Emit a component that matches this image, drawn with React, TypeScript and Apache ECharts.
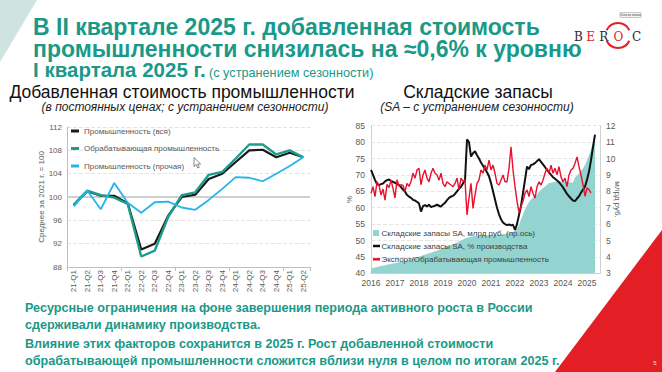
import React, { useEffect, useRef } from "react";
import * as echarts from "echarts";

// ---------- Left chart: value added in industry (quarterly, avg 2021 = 100)
const quarterLabels = ["21-Q1","21-Q2","21-Q3","21-Q4","22-Q1","22-Q2","22-Q3","22-Q4","23-Q1","23-Q2","23-Q3","23-Q4","24-Q1","24-Q2","24-Q3","24-Q4","25-Q1","25-Q2"];
const industryAll = [98.6,101.0,100.2,100.2,98.9,91.0,92.0,96.8,100.0,100.4,103.1,104.0,106.0,108.0,108.1,106.8,107.6,106.8];
const manufacturing = [98.7,101.1,100.3,99.9,98.8,89.8,90.8,96.6,100.3,100.8,103.8,104.3,106.6,109.0,109.0,107.3,108.0,106.8];
const industryOther = [98.4,101.1,97.9,102.4,99.0,97.3,99.1,99.2,98.2,97.8,99.5,101.4,103.4,103.3,102.7,104.0,105.3,106.8];
const leftSeriesNames = ["Промышленность (вся)", "Обрабатывающая промышленность", "Промышленность (прочая)"];

// ---------- Right chart: inventories (monthly from Jan 2016)
const yearLabels = ["2016","2017","2018","2019","2020","2021","2022","2023","2024","2025"];
// Inventories SA, bn rub (right axis)
const stockRub = [
  3.30,3.33,3.35,3.38,3.41,3.44,3.46,3.49,3.52,3.55,3.57,3.60,
  3.62,3.65,3.68,3.70,3.73,3.76,3.79,3.82,3.86,3.90,3.94,3.98,
  4.02,4.06,4.10,4.14,4.18,4.22,4.26,4.30,4.34,4.38,4.43,4.48,
  4.52,4.57,4.62,4.67,4.72,4.77,4.82,4.88,4.94,5.00,5.06,5.12,
  5.17,5.20,5.23,5.25,5.27,5.28,5.29,5.30,5.30,5.31,5.32,5.33,
  5.33,5.34,5.35,5.35,5.36,5.37,5.38,5.40,5.42,5.45,5.48,5.52,
  5.60,5.75,5.95,6.30,6.60,6.90,7.15,7.35,7.50,7.60,7.70,7.80,
  7.95,8.10,8.20,8.30,8.40,8.50,8.52,8.55,8.57,8.58,8.60,8.60,
  8.60,8.58,8.57,8.55,8.54,8.53,8.85,8.95,9.10,9.25,9.40,9.60,
  9.90,10.20,10.55,10.95,11.40
];
// Inventories SA, % of production (left axis)
const stockPct = [
  71.5,70.0,68.5,67.2,66.9,67.2,67.4,68.0,68.4,68.6,68.2,67.9,
  67.6,67.2,66.9,66.3,65.5,64.9,63.9,63.4,63.0,62.4,62.2,61.8,
  61.3,58.8,60.5,60.8,60.4,60.9,60.2,60.4,60.6,60.9,60.6,60.3,
  61.0,61.5,62.3,63.0,63.4,63.6,64.2,65.0,65.8,66.4,67.4,68.3,
  80.8,80.0,75.6,76.6,77.2,76.0,75.0,73.8,72.8,71.8,70.8,69.6,
  67.5,65.0,62.5,60.0,58.0,56.5,55.5,55.0,54.7,54.9,54.6,54.8,
  53.2,55.0,57.8,60.5,64.5,68.5,72.5,71.8,73.0,73.2,73.6,74.2,
  74.8,74.0,73.2,72.4,71.5,70.8,70.0,69.3,68.8,68.3,67.8,67.0,
  66.2,65.2,64.2,63.5,62.8,62.2,62.0,62.8,63.5,64.6,65.5,66.4,
  68.5,71.0,74.5,78.5,82.3
];
// Export / manufacturing, % (left axis)
const exportRatio = [
  64.4,66.4,63.4,67.9,66.9,63.9,65.7,62.3,67.1,66.1,68.4,65.9,
  63.0,68.5,66.5,67.0,66.8,65.0,67.4,66.5,68.0,70.5,69.0,71.5,
  72.0,67.0,70.0,71.5,69.0,67.9,70.5,72.0,70.5,70.0,68.4,70.5,
  67.4,66.4,67.9,67.4,66.9,66.4,67.4,69.0,65.4,69.0,68.0,68.5,
  57.8,62.9,67.4,59.8,63.9,67.4,68.5,71.5,70.5,73.0,71.5,74.5,
  71.5,73.0,70.5,67.4,66.9,68.4,70.0,67.9,67.9,72.0,78.6,71.5,
  66.4,62.0,58.5,60.4,62.0,64.4,65.4,63.4,66.4,64.4,62.9,66.4,
  67.9,66.9,68.4,70.5,72.0,70.5,73.0,70.5,72.0,70.0,72.5,69.4,
  67.9,69.0,66.4,70.0,71.5,72.0,73.5,75.5,72.5,70.0,67.0,63.5,
  66.0,65.5,64.5
];
const rightSeriesNames = ["Складские запасы SA, млрд руб. (пр.ось)", "Складские запасы SA, % производства", "Экспорт/Обрабатывающая промышленность"];

// ---------- Slide texts
const titleLines = ["В II квартале 2025 г. добавленная стоимость", "промышленности снизилась на ≈0,6% к уровню"];
const titleLine3Bold = "I квартала 2025 г.";
const titleLine3Note = "(с устранением сезонности)";
const leftTitle = "Добавленная стоимость промышленности";
const leftSubtitle = "(в постоянных ценах; с устранением сезонности)";
const rightTitle = "Складские запасы";
const rightSubtitle = "(SA – с устранением сезонности)";
const bottomLines = [
  "Ресурсные ограничения на фоне завершения периода активного роста в России",
  "сдерживали динамику производства.",
  "Влияние этих факторов сохранится в 2025 г. Рост добавленной стоимости",
  "обрабатывающей промышленности сложится вблизи нуля в целом по итогам 2025 г.",
];
const logoLetters = ["B", "E", "R", "O", "C"];

const TEAL = "#1a9988";
const RED = "#e31e24";
const NARROW = "'Liberation Sans Narrow', 'Arial Narrow', 'Liberation Sans', sans-serif";
const SANS = "'Liberation Sans', Arial, sans-serif";
const SERIF = "'DejaVu Serif', 'Liberation Serif', serif";
const AREA = "#93d4d1";

function buildOption(): any {
  const toPairs = (arr: number[]) => arr.map((v, i) => [i, v]);
  const logoWidths = [12, 12.5, 13.5, 16, 20];
  const logoRich: any = {};
  logoLetters.forEach((l, i) => {
    logoRich["l" + i] = {
      fontFamily: SERIF, fontSize: 12, width: logoWidths[i], align: "center",
      fill: i === 1 || i === 3 ? RED : "#2b2b2b", lineHeight: 12,
    };
  });
  const logoText = logoLetters.map((l, i) => `{l${i}|${l}}`).join("");

  const graphic: any[] = [
    { type: "polygon", shape: { points: [[0, 0], [37, 0], [0, 62]] }, style: { fill: "#cfe4e1" }, z: 1 },
    { type: "polygon", shape: { points: [[662, 230], [662, 372], [555, 372]] }, style: { fill: RED }, z: 1 },
    ...titleLines.map((t, i) => ({
      type: "text", x: 33, y: 27 + i * 21.5, z: 10,
      style: { text: t, fontFamily: NARROW, fontWeight: "bold", fontSize: 23, lineHeight: 20, fill: TEAL, align: "left", verticalAlign: "middle" },
    })),
    {
      type: "text", x: 33, y: 70, z: 10,
      style: {
        text: `{b|${titleLine3Bold}} {n|${titleLine3Note}}`,
        align: "left", verticalAlign: "middle",
        rich: {
          b: { fontFamily: NARROW, fontWeight: "bold", fontSize: 20.5, lineHeight: 19, fill: TEAL, verticalAlign: "bottom" },
          n: { fontFamily: NARROW, fontSize: 12.7, lineHeight: 14, fill: TEAL, verticalAlign: "bottom" },
        },
      },
    },
    // logo
    { type: "text", x: 572.5, y: 36.5, z: 10, style: { text: logoText, rich: logoRich, align: "left", verticalAlign: "middle" } },
    { type: "arc", z: 10, shape: { cx: 618, cy: 35.5, r: 12.5, startAngle: (205 * Math.PI) / 180, endAngle: (335 * Math.PI) / 180, clockwise: true }, style: { stroke: RED, lineWidth: 2, fill: "none" } },
    { type: "arc", z: 10, shape: { cx: 618, cy: 35.5, r: 12.5, startAngle: (25 * Math.PI) / 180, endAngle: (155 * Math.PI) / 180, clockwise: true }, style: { stroke: RED, lineWidth: 2, fill: "none" } },
    { type: "rect", z: 10, shape: { x: 620, y: 12.5, width: 21, height: 5 }, style: { fill: "#f4f4ec", stroke: "#9a9a9a", lineWidth: 0.5 } },
    { type: "text", z: 11, x: 630.5, y: 15, style: { text: "Окно из значка", fontSize: 3, lineHeight: 3, fontFamily: SANS, fill: "#444", align: "center", verticalAlign: "middle" } },
    // chart titles
    { type: "text", x: 182, y: 92, z: 10, style: { text: leftTitle, fontFamily: SANS, fontSize: 17.5, lineHeight: 15, fill: "#111", align: "center", verticalAlign: "middle" } },
    { type: "text", x: 185, y: 107, z: 10, style: { text: leftSubtitle, fontFamily: SANS, fontStyle: "italic", fontSize: 12, lineHeight: 12, fill: "#222", align: "center", verticalAlign: "middle" } },
    { type: "text", x: 478, y: 92, z: 10, style: { text: rightTitle, fontFamily: SANS, fontSize: 17.5, lineHeight: 15, fill: "#111", align: "center", verticalAlign: "middle" } },
    { type: "text", x: 477, y: 107, z: 10, style: { text: rightSubtitle, fontFamily: SANS, fontStyle: "italic", fontSize: 12, lineHeight: 12, fill: "#222", align: "center", verticalAlign: "middle" } },
    // right legend
    { type: "rect", z: 20, shape: { x: 373, y: 230, width: 6, height: 6 }, style: { fill: AREA } },
    { type: "line", z: 20, shape: { x1: 373, y1: 246, x2: 380, y2: 246 }, style: { stroke: "#111", lineWidth: 2.5 } },
    { type: "line", z: 20, shape: { x1: 373, y1: 259.3, x2: 380, y2: 259.3 }, style: { stroke: "#e8112d", lineWidth: 2.5 } },
    ...rightSeriesNames.map((n, i) => ({
      type: "text", z: 20, x: 381.5, y: [233, 246, 259.3][i],
      style: { text: n, fontFamily: SANS, fontSize: 8, fill: "#404040", align: "left", verticalAlign: "middle" },
    })),
    // mouse cursor
    { type: "polygon", z: 30, shape: { points: [[194, 157.5], [194, 166.5], [196.2, 164.5], [197.8, 168], [199.2, 167.4], [197.7, 164], [200.6, 164]] }, style: { fill: "#fff", stroke: "#555", lineWidth: 0.7 } },
    // bottom text
    ...bottomLines.map((t, i) => ({
      type: "text", x: 25, y: [308, 324.5, 344, 360.5][i], z: 10,
      style: { text: t, fontFamily: NARROW, fontWeight: "bold", fontSize: 12.6, lineHeight: 14, fill: TEAL, align: "left", verticalAlign: "middle" },
    })),
    { type: "text", x: 655, y: 363, z: 10, style: { text: "5", fontFamily: SANS, fontSize: 6, fill: "#e6e6e6", align: "center", verticalAlign: "middle" } },
  ];

  const axisGray = "#bfbfbf";
  const labelGray = "#595959";

  return {
    animation: false,
    backgroundColor: "#ffffff",
    textStyle: { fontFamily: SANS },
    grid: [
      { left: 67, top: 127, width: 243, height: 140 },
      { left: 371, top: 125.7, width: 229, height: 147.6 },
    ],
    xAxis: [
      {
        type: "category", gridIndex: 0, data: quarterLabels, boundaryGap: true,
        axisLine: { lineStyle: { color: axisGray } },
        axisTick: { show: true, interval: (i: number) => i % 4 === 0, length: 4, lineStyle: { color: axisGray } },
        axisLabel: { rotate: 90, fontSize: 8, color: labelGray, margin: 3, interval: 0 },
      },
      {
        type: "value", gridIndex: 1, min: 0, max: 114.5, interval: 12,
        axisLine: { show: true, lineStyle: { color: "#d0d0d0" } },
        axisTick: { show: false }, splitLine: { show: false },
        axisLabel: {
          fontSize: 8.5, color: labelGray, margin: 5,
          formatter: (v: number) => (v % 12 === 0 ? yearLabels[v / 12] ?? "" : ""),
        },
      },
    ],
    yAxis: [
      {
        type: "value", gridIndex: 0, min: 88, max: 112, interval: 4,
        axisLine: { show: true, lineStyle: { color: axisGray } },
        axisTick: { show: false },
        axisLabel: { fontSize: 8, color: labelGray, margin: 5 },
        splitLine: { lineStyle: { color: "#e4e4e4", type: "dashed" } },
        name: "Среднее за 2021 г. = 100", nameLocation: "middle", nameGap: 21.5, nameRotate: 90,
        nameMoveOverlap: false,
        nameTextStyle: { fontSize: 8, color: labelGray },
      },
      {
        type: "value", gridIndex: 1, min: 40, max: 85, interval: 5,
        axisLine: { show: true, lineStyle: { color: "#d0d0d0" } },
        axisTick: { show: false },
        axisLabel: { fontSize: 8.5, color: labelGray, margin: 6 },
        splitLine: { lineStyle: { color: "#e6e6e6", type: "dashed" } },
        name: "%", nameLocation: "middle", nameGap: 18, nameRotate: 90,
        nameMoveOverlap: false,
        nameTextStyle: { fontSize: 8, color: labelGray },
      },
      {
        type: "value", gridIndex: 1, min: 3, max: 12, interval: 1, position: "right",
        axisLine: { show: true, lineStyle: { color: "#d0d0d0" } },
        axisTick: { show: false },
        axisLabel: { fontSize: 8.5, color: labelGray, margin: 6 },
        splitLine: { show: false },
        name: "млрд руб.", nameLocation: "middle", nameGap: 13, nameRotate: -90,
        nameMoveOverlap: false,
        nameTextStyle: { fontSize: 8, color: labelGray },
      },
    ],
    legend: [
      {
        data: leftSeriesNames, orient: "vertical", left: 71, top: 126,
        itemWidth: 8, itemHeight: 3, icon: "rect", itemGap: 7.5, padding: 0,
        selectedMode: false,
        textStyle: { fontSize: 8, color: labelGray, lineHeight: 10 },
      },
    ],
    series: [
      {
        name: leftSeriesNames[0], type: "line", xAxisIndex: 0, yAxisIndex: 0, data: industryAll,
        symbol: "none", lineStyle: { color: "#1a1a1a", width: 2.2 }, itemStyle: { color: "#1a1a1a" }, z: 3,
        markLine: {
          silent: true, symbol: "none", label: { show: false },
          lineStyle: { color: "#cfcfcf", width: 2, type: "solid" },
          data: [{ yAxis: 100 }], z: 1,
        },
      },
      {
        name: leftSeriesNames[1], type: "line", xAxisIndex: 0, yAxisIndex: 0, data: manufacturing,
        symbol: "none", lineStyle: { color: "#1e9c8c", width: 2.4 }, itemStyle: { color: "#1e9c8c" }, z: 4,
      },
      {
        name: leftSeriesNames[2], type: "line", xAxisIndex: 0, yAxisIndex: 0, data: industryOther,
        symbol: "none", lineStyle: { color: "#27b4ea", width: 1.8 }, itemStyle: { color: "#27b4ea" }, z: 5,
      },
      {
        name: rightSeriesNames[0], type: "line", xAxisIndex: 1, yAxisIndex: 2, data: toPairs(stockRub),
        symbol: "none", lineStyle: { width: 0, color: AREA }, areaStyle: { color: AREA, opacity: 1, origin: "start" }, z: 2,
      },
      {
        name: rightSeriesNames[1], type: "line", xAxisIndex: 1, yAxisIndex: 1, data: toPairs(stockPct),
        symbol: "none", lineStyle: { color: "#111", width: 2 }, z: 3,
      },
      {
        name: rightSeriesNames[2], type: "line", xAxisIndex: 1, yAxisIndex: 1, data: toPairs(exportRatio),
        symbol: "none", lineStyle: { color: "#e8112d", width: 1.4 }, z: 4,
      },
    ],
    graphic,
  };
}

export default function App() {
  const ref = useRef<HTMLDivElement>(null);
  useEffect(() => {
    if (!ref.current) return;
    const chart = echarts.init(ref.current, undefined, { renderer: "svg" });
    chart.setOption(buildOption());
    return () => chart.dispose();
  }, []);
  return (
    <div
      ref={ref}
      style={{ position: "absolute", left: 0, top: 0, width: 662, height: 372, background: "#fff" }}
    />
  );
}
